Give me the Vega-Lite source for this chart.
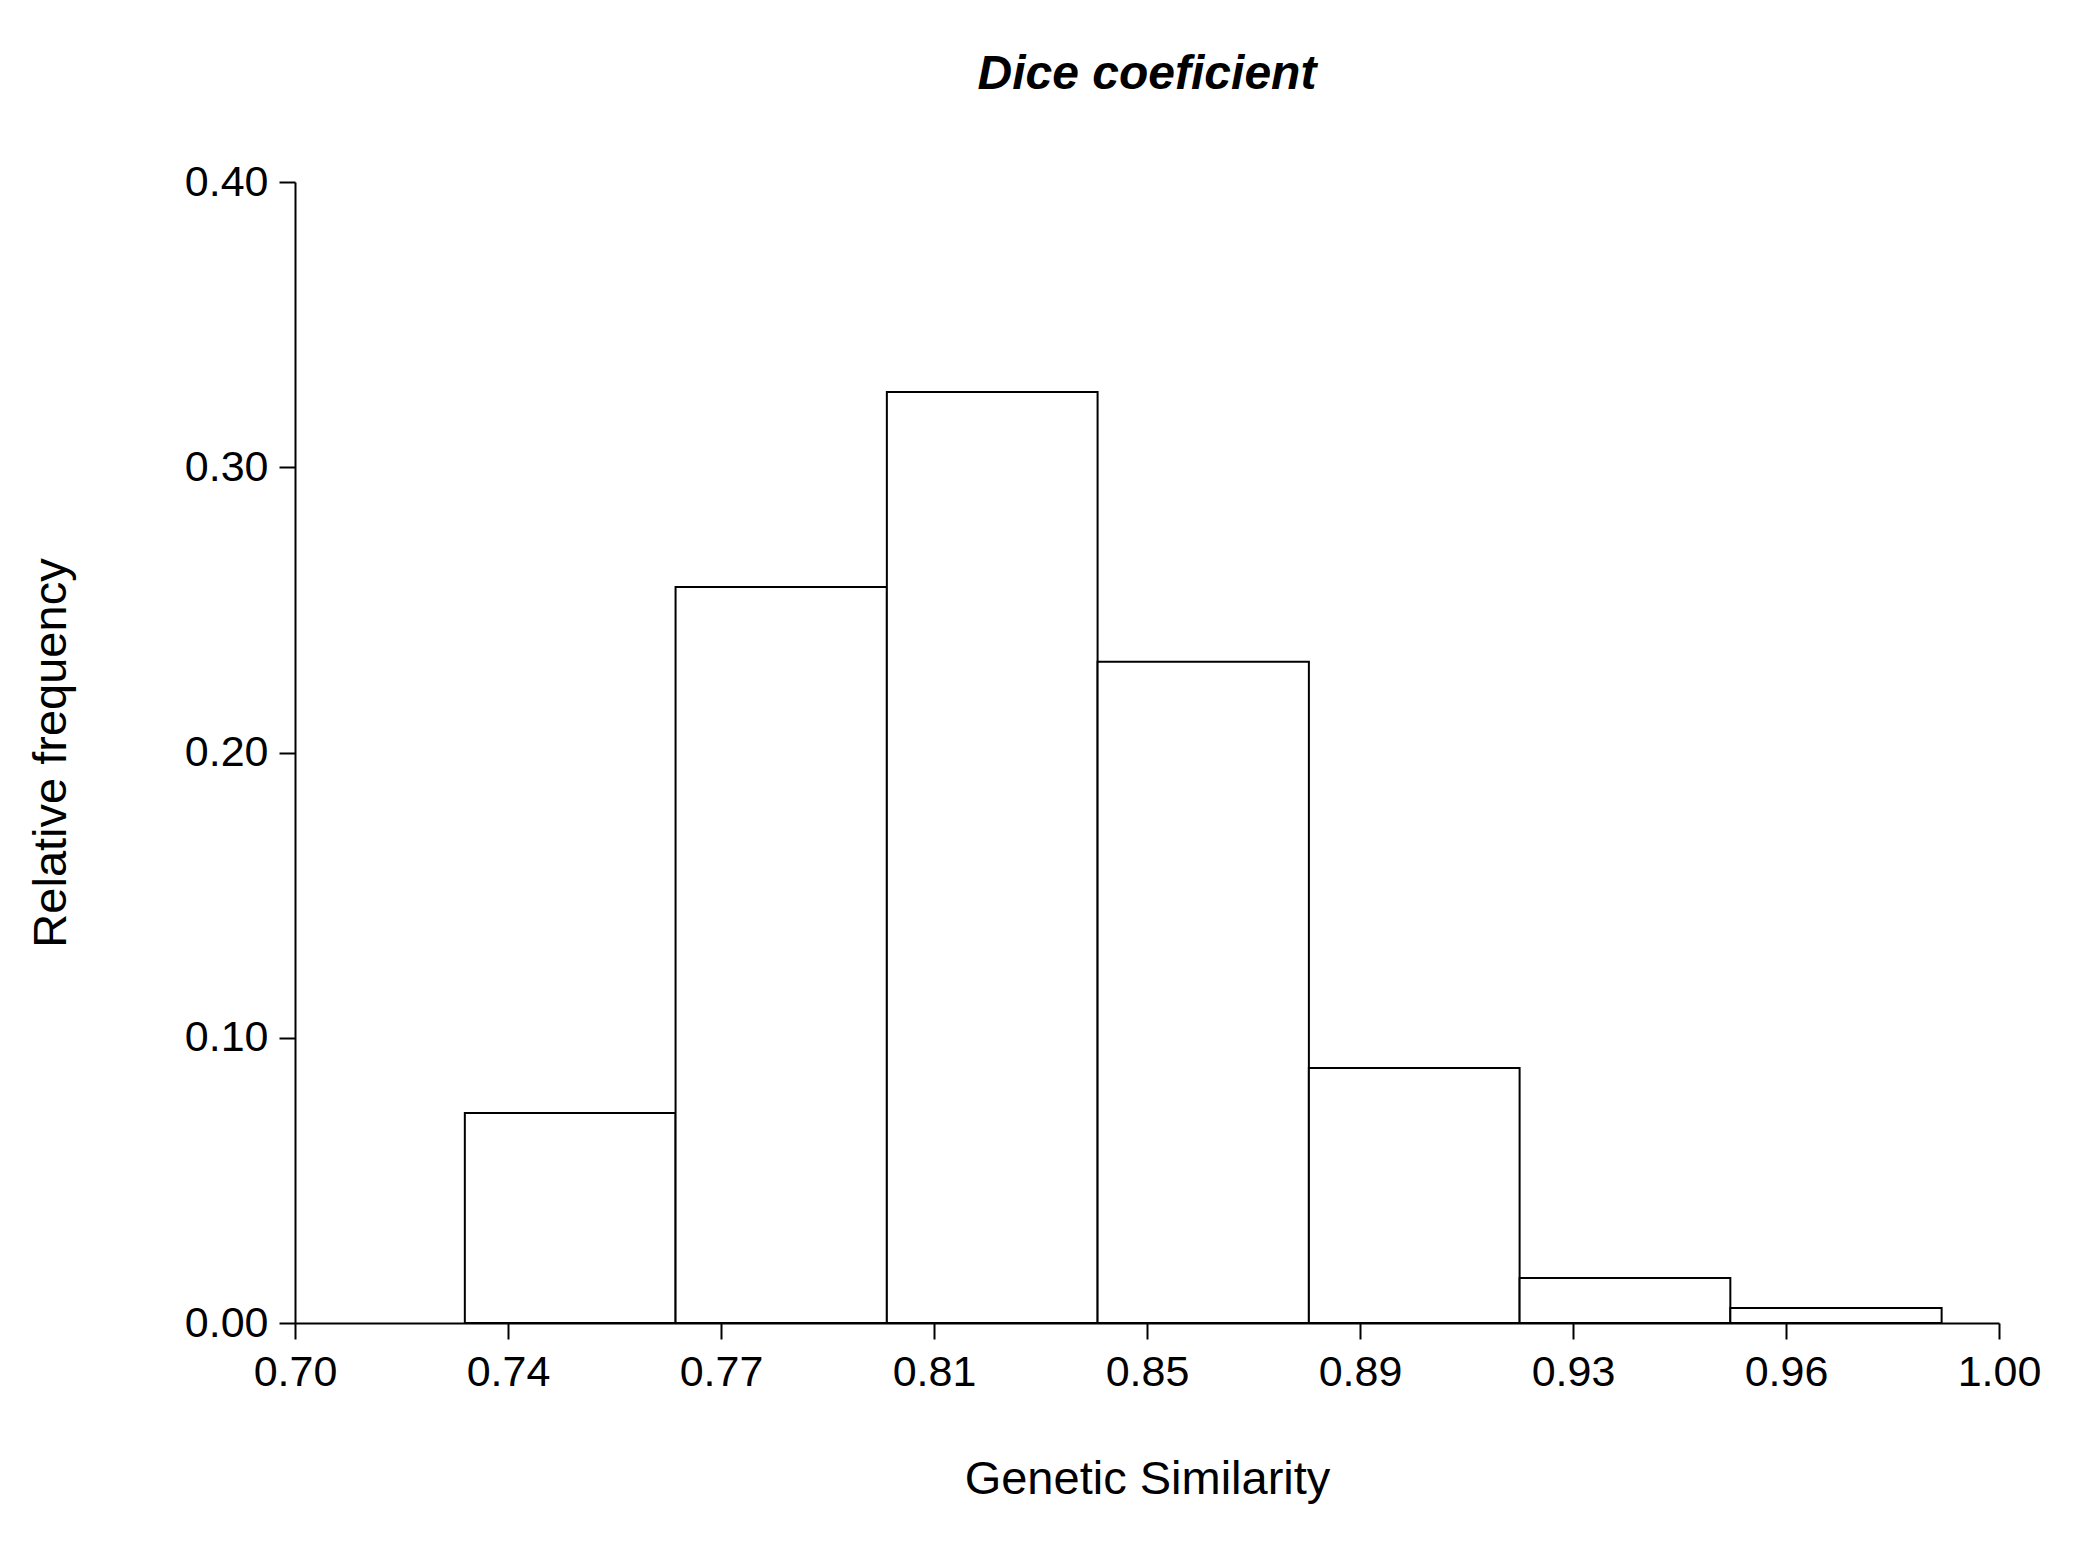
{
  "$schema": "https://vega.github.io/schema/vega-lite/v6.json",
  "width": 1704,
  "height": 1141,
  "autosize": {"type": "none"},
  "padding": {"left": 295, "top": 182, "right": 79, "bottom": 233},
  "background": "white",
  "title": {
    "text": "Dice coeficient",
    "font": "Liberation Sans",
    "fontSize": 48,
    "fontWeight": "bold",
    "fontStyle": "italic",
    "color": "black",
    "anchor": "middle",
    "baseline": "alphabetic",
    "offset": 24
  },
  "data": {
    "values": [
      {"bin_start": 0.7299, "bin_end": 0.7670, "freq": 0.0736},
      {"bin_start": 0.7670, "bin_end": 0.8042, "freq": 0.2580},
      {"bin_start": 0.8042, "bin_end": 0.8413, "freq": 0.3264},
      {"bin_start": 0.8413, "bin_end": 0.8785, "freq": 0.2318},
      {"bin_start": 0.8785, "bin_end": 0.9156, "freq": 0.0894},
      {"bin_start": 0.9156, "bin_end": 0.9527, "freq": 0.0158},
      {"bin_start": 0.9527, "bin_end": 0.9899, "freq": 0.0053}
    ]
  },
  "mark": {"type": "bar", "fill": "white", "stroke": "black", "strokeWidth": 2},
  "encoding": {
    "x": {
      "field": "bin_start",
      "type": "quantitative",
      "scale": {"domain": [0.7, 1.0], "nice": false, "zero": false},
      "axis": {
        "title": "Genetic Similarity",
        "values": [0.7, 0.7375, 0.775, 0.8125, 0.85, 0.8875, 0.925, 0.9625, 1.0],
        "labelExpr": "['0.70','0.74','0.77','0.81','0.85','0.89','0.93','0.96','1.00'][round((datum.value - 0.7) / 0.0375)]",
        "labelFlush": false,
        "labelOverlap": false,
        "labelPadding": 12,
        "titlePadding": 62
      }
    },
    "x2": {"field": "bin_end"},
    "y": {
      "field": "freq",
      "type": "quantitative",
      "scale": {"domain": [0, 0.4], "nice": false},
      "axis": {
        "title": "Relative frequency",
        "values": [0, 0.1, 0.2, 0.3, 0.4],
        "format": ".2f",
        "labelFlush": false,
        "labelOverlap": false,
        "labelPadding": 11,
        "titlePadding": 109
      }
    },
    "y2": {"datum": 0}
  },
  "config": {
    "view": {"stroke": null},
    "axis": {
      "grid": false,
      "domainColor": "black",
      "domainWidth": 2,
      "tickColor": "black",
      "tickWidth": 2,
      "tickSize": 16,
      "labelFont": "Liberation Sans",
      "labelFontSize": 43,
      "labelColor": "black",
      "titleFont": "Liberation Sans",
      "titleFontSize": 47,
      "titleFontWeight": "normal",
      "titleColor": "black"
    }
  }
}
